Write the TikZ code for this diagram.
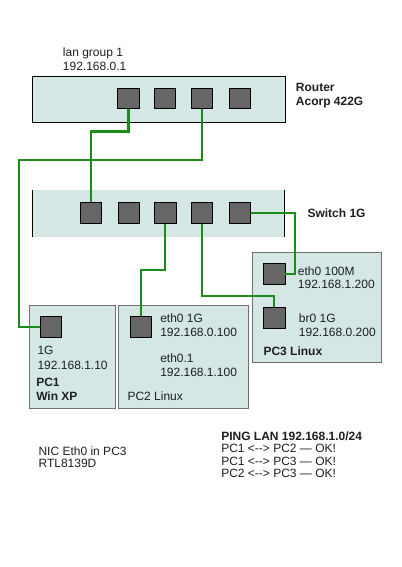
\documentclass[tikz,border=0pt]{standalone}
\usepackage{fontspec}
\setmainfont{Liberation Sans}
\begin{document}
\begin{tikzpicture}[x=0.75pt,y=-0.75pt,
  lbl/.style={anchor=base west,inner sep=0pt,font=\fontsize{9pt}{10pt}\selectfont,text=black!88},
  blbl/.style={lbl,font=\fontsize{9pt}{10pt}\selectfont\bfseries},
  port/.style={rectangle,draw=black,fill=portgray,minimum width=16.2pt,minimum height=15.6pt,inner sep=0pt,line width=0.5pt},
  pcbox/.style={rectangle,draw=boxedge,fill=boxfill,inner sep=0pt,line width=0.6pt},
  wire/.style={draw=wiregreen,line width=1.6pt}]
\definecolor{boxfill}{HTML}{D4E7E5}
\definecolor{boxedge}{HTML}{707070}
\definecolor{portgray}{HTML}{666666}
\definecolor{wiregreen}{HTML}{1A8C1A}
\useasboundingbox[fill=white] (0,0) rectangle (401,567);
% router
\node[rectangle,draw=black,fill=boxfill,line width=0.6pt,minimum width=189.2pt,minimum height=34.5pt,inner sep=0pt] (router) at (158.85,99) {};
% switch
\fill[boxfill] (32.5,190) rectangle (284.5,237);
\node[inner sep=0pt,minimum width=189pt,minimum height=35.25pt] (switch) at (158.5,213.5) {};
\draw[black,line width=0.6pt] (switch.north west) -- (switch.south west);
\draw[black,line width=0.6pt] (switch.north east) -- (switch.south east);
% PC boxes
\node[pcbox,minimum width=64.5pt,minimum height=77.25pt] (pc1) at (72,356.5) {};
\node[pcbox,minimum width=97.8pt,minimum height=77.25pt] (pc2) at (183.5,356.5) {};
\node[pcbox,minimum width=97pt,minimum height=82.2pt] (pc3) at (317,307.5) {};
% router ports
\node[port] (rp1) at (128.5,98.3) {};
\node[port] (rp2) at (164.8,98.3) {};
\node[port] (rp3) at (201.8,98.3) {};
\node[port] (rp4) at (240,98.3) {};
% switch ports
\node[port] (sp1) at (90.8,212.8) {};
\node[port] (sp2) at (129,212.8) {};
\node[port] (sp3) at (165.1,212.8) {};
\node[port] (sp4) at (201.8,212.8) {};
\node[port] (sp5) at (240,212.8) {};
% pc ports
\node[port] (pp1) at (50.8,327.2) {};
\node[port] (pp2) at (140.8,327.2) {};
\node[port] (pp3a) at (274.1,273.8) {};
\node[port] (pp3b) at (274.1,317.8) {};
% wires
\coordinate (w2a) at (19,160);
\coordinate (w5a) at (295,212.8);
\draw[wire] (rp1.south) -- ++(0,22.4) -| (sp1.north);
\draw[wire] (rp3.south) |- (w2a) |- (pp1.west);
\draw[wire] (sp3.south) -- ++(0,46.7) -| (pp2.north);
\draw[wire] (sp4.south) -- ++(0,72.4) -| (pp3b.north);
\draw[wire] (sp5.east) -- (w5a) |- (pp3a.east);
% labels
\node[lbl] (lg1) at (62.7,57) {lan group 1};
\node[lbl] (lg2) at (62.7,70.3) {192.168.0.1};
\node[blbl] (rt1) at (295.7,92) {Router};
\node[blbl] (rt2) at (295.7,105.3) {Acorp 422G};
\node[blbl] (sw1) at (307.3,217.5) {Switch 1G};
\node[lbl] (p3a1) at (297.7,275) {eth0 100M};
\node[lbl] (p3a2) at (297.7,288.5) {192.168.1.200};
\node[lbl] (p3b1) at (298.7,322.5) {br0 1G};
\node[lbl] (p3b2) at (298.7,336) {192.168.0.200};
\node[blbl] (p3n) at (263.3,355) {PC3 Linux};
\node[lbl] (p2a1) at (160,322.5) {eth0 1G};
\node[lbl] (p2a2) at (160,336) {192.168.0.100};
\node[lbl] (p2b1) at (160,362.3) {eth0.1};
\node[lbl] (p2b2) at (160,376) {192.168.1.100};
\node[lbl] (p2n) at (127.3,400.7) {PC2 Linux};
\node[lbl] (p1a1) at (37.3,354) {1G};
\node[lbl] (p1a2) at (37.3,369) {192.168.1.10};
\node[blbl] (p1n1) at (36,386.7) {PC1};
\node[blbl] (p1n2) at (36,400.7) {Win XP};
\node[lbl] (nic1) at (38.3,455.5) {NIC Eth0 in PC3};
\node[lbl] (nic2) at (38.3,467.5) {RTL8139D};
\node[blbl] (png0) at (221,440) {PING LAN 192.168.1.0/24};
\node[lbl] (png1) at (221,452.6) {PC1 <{}-{}-> PC2 — OK!};
\node[lbl] (png2) at (221,465.2) {PC1 <{}-{}-> PC3 — OK!};
\node[lbl] (png3) at (221,477.8) {PC2 <{}-{}-> PC3 — OK!};
\end{tikzpicture}
\end{document}
